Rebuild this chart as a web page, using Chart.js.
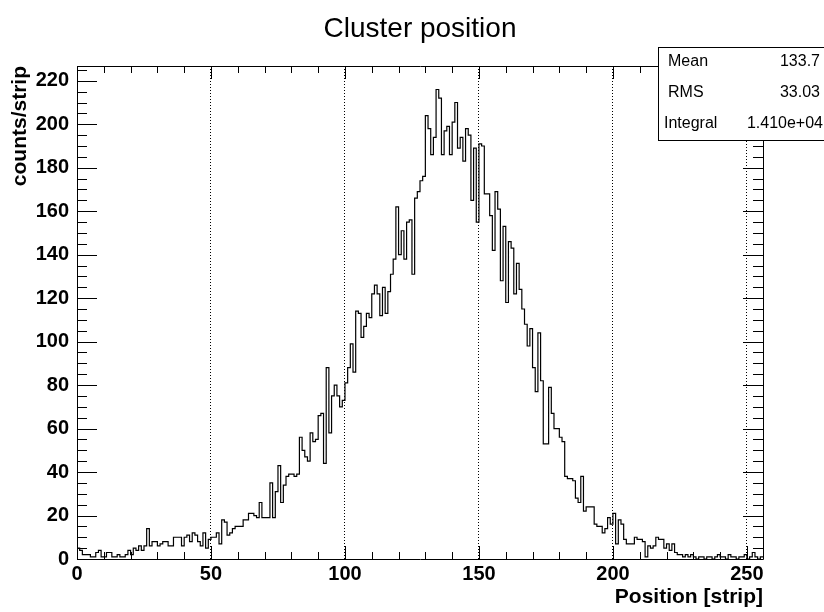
<!DOCTYPE html>
<html>
<head>
<meta charset="utf-8">
<title>Cluster position</title>
<script src="https://cdn.jsdelivr.net/npm/chart.js@4.4.1/dist/chart.umd.min.js"></script>
<style>
  html, body { margin: 0; padding: 0; background: #fff; }
  canvas { display: block; }
</style>
</head>
<body>
<canvas id="hist" width="824" height="612"></canvas>
<script>
// counts per strip, strips 0..255
const counts = [
  5, 4, 2, 2, 2, 1, 1, 3, 4, 1, 1, 3, 3, 1, 1, 2,
  1, 1, 2, 4, 2, 5, 4, 6, 4, 6, 14, 6, 8, 8, 6, 7,
  8, 8, 6, 6, 10, 10, 10, 6, 10, 11, 8, 12, 11, 8, 6, 12,
  5, 9, 10, 10, 12, 7, 18, 17, 11, 12, 14, 15, 15, 15, 18, 18,
  21, 21, 20, 19, 26, 19, 19, 19, 35, 19, 31, 43, 26, 34, 38, 39,
  39, 38, 39, 56, 50, 47, 45, 58, 54, 55, 66, 67, 44, 88, 58, 75,
  80, 75, 70, 73, 81, 88, 99, 86, 114, 113, 102, 107, 113, 111, 122, 126,
  122, 112, 125, 113, 123, 131, 138, 162, 140, 151, 138, 155, 156, 131, 166, 169,
  174, 176, 204, 198, 186, 194, 216, 212, 186, 197, 199, 186, 201, 210, 189, 194,
  183, 198, 195, 165, 189, 155, 191, 190, 168, 168, 158, 142, 169, 161, 128, 153,
  118, 146, 143, 122, 136, 124, 115, 108, 98, 106, 88, 77, 104, 82, 53, 53,
  79, 67, 60, 60, 56, 54, 38, 37, 37, 36, 28, 26, 38, 22, 24, 24,
  24, 16, 15, 15, 12, 14, 19, 16, 21, 7, 18, 16, 9, 7, 7, 7,
  10, 9, 9, 8, 1, 6, 5, 6, 10, 9, 9, 5, 7, 4, 7, 3,
  2, 2, 1, 2, 1, 2, 1, 0, 1, 1, 0, 1, 1, 0, 1, 2,
  1, 1, 0, 2, 1, 1, 0, 1, 1, 2, 0, 1, 3, 1, 0, 1
];
const xTicks = [0, 50, 100, 150, 200, 250];
const yTicks = [0, 20, 40, 60, 80, 100, 120, 140, 160, 180, 200, 220];
const statNames = ['Mean', 'RMS', 'Integral'];
const statValues = ['133.7', '33.03', '1.410e+04'];

const fontFam = "'Liberation Sans', Arial, Helvetica, sans-serif";
Chart.defaults.font.family = fontFam;
Chart.defaults.color = '#000';

// histogram outline: each bin gives a flat top from low edge to high edge
const outline = [];
counts.forEach((c, i) => {
  outline.push({ x: i, y: c });
  outline.push({ x: i + 1, y: c });
});

const rootFrame = {
  id: 'rootFrame',
  afterDatasetsDraw(chart) {
    const { ctx, chartArea: a, scales: { x, y } } = chart;
    ctx.save();
    ctx.strokeStyle = '#000';
    ctx.lineWidth = 1;
    ctx.beginPath();
    ctx.rect(Math.round(a.left) + 0.5, Math.round(a.top) + 0.5, Math.round(a.right - a.left), Math.round(a.bottom - a.top));
    // x ticks, bottom and top, pointing in
    for (let v = 0; v <= x.max; v += 10) {
      const px = Math.round(x.getPixelForValue(v)) + 0.5;
      const len = xTicks.includes(v) ? 13 : 7;
      ctx.moveTo(px, a.bottom); ctx.lineTo(px, a.bottom - len);
      ctx.moveTo(px, a.top); ctx.lineTo(px, a.top + len);
    }
    // y ticks, left and right
    for (let v = 0; v <= y.max; v += 5) {
      const py = Math.round(y.getPixelForValue(v)) + 0.5;
      const len = yTicks.includes(v) ? 20 : 10;
      ctx.moveTo(a.left, py); ctx.lineTo(a.left + len, py);
      ctx.moveTo(a.right, py); ctx.lineTo(a.right - len, py);
    }
    ctx.stroke();
    ctx.restore();
  },
  afterDraw(chart) {
    const { ctx } = chart;
    ctx.save();
    // title
    ctx.fillStyle = '#000';
    ctx.font = '28px ' + fontFam;
    ctx.textAlign = 'center';
    ctx.textBaseline = 'middle';
    ctx.fillText('Cluster position', 420, 29);
    // stats box
    ctx.fillStyle = '#fff';
    ctx.fillRect(658, 47, 170, 93);
    ctx.strokeStyle = '#000';
    ctx.lineWidth = 1;
    ctx.strokeRect(658.5, 47.5, 170, 93);
    ctx.fillStyle = '#000';
    ctx.font = '16px ' + fontFam;
    statNames.forEach((n, i) => {
      const ty = 62 + i * 31;
      ctx.textAlign = 'left';
      ctx.fillText(n, i === 2 ? 664 : 668, ty);
      ctx.textAlign = 'right';
      ctx.fillText(statValues[i], i === 2 ? 823 : 820, ty);
    });
    ctx.restore();
  }
};

new Chart(document.getElementById('hist'), {
  type: 'line',
  data: {
    datasets: [{
      data: outline,
      borderColor: '#000',
      borderWidth: 1.2,
      pointRadius: 0,
      tension: 0,
      fill: false
    }]
  },
  options: {
    responsive: false,
    animation: false,
    events: [],
    layout: { padding: { top: 66, right: 61, left: 0, bottom: 0 } },
    plugins: { legend: { display: false }, tooltip: { enabled: false }, title: { display: false } },
    scales: {
      x: {
        type: 'linear',
        min: 0,
        max: 256,
        afterBuildTicks: s => { s.ticks = xTicks.map(v => ({ value: v })); },
        afterFit: s => { s.height = 53; },
        ticks: { font: { size: 20, weight: 'bold' }, padding: 3, maxRotation: 0, autoSkip: false },
        grid: {
          drawTicks: false,
          color: c => (c.tick && c.tick.value > 0 ? '#000' : 'rgba(0,0,0,0)'),
          lineWidth: 1
        },
        border: { display: false, dash: [1, 2] },
        title: {
          display: true,
          text: 'Position [strip]',
          align: 'end',
          font: { size: 21, weight: 'bold' },
          padding: { top: 0, bottom: 2 }
        }
      },
      y: {
        type: 'linear',
        min: 0,
        max: 226.8,
        afterBuildTicks: s => { s.ticks = yTicks.map(v => ({ value: v })); },
        afterFit: s => { s.width = 77; },
        ticks: { font: { size: 20, weight: 'bold' }, padding: 8 },
        grid: { display: false, drawTicks: false },
        border: { display: false },
        title: {
          display: true,
          text: 'counts/strip',
          align: 'end',
          font: { size: 21, weight: 'bold' },
          padding: { top: 8, bottom: 0 }
        }
      }
    }
  },
  plugins: [rootFrame]
});
</script>
</body>
</html>
